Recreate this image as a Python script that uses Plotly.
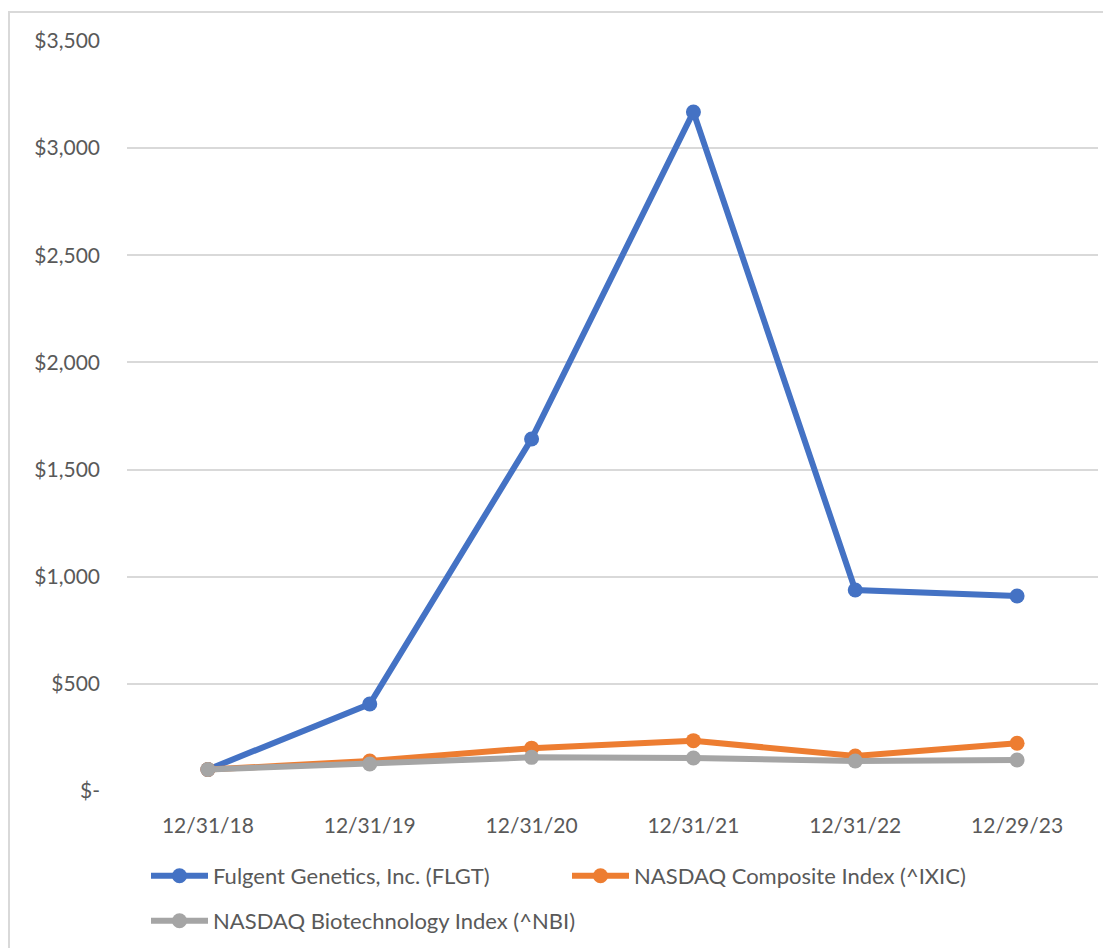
import plotly.graph_objects as go

dates = ["12/31/18", "12/31/19", "12/31/20", "12/31/21", "12/31/22", "12/29/23"]
flgt = [100, 406, 1643, 3169, 938, 910]
ixic = [100, 140, 200, 235, 163, 223]
nbi = [100, 126, 157, 154, 140, 145]

names = ["Fulgent Genetics, Inc. (FLGT)", "NASDAQ Composite Index (^IXIC)", "NASDAQ Biotechnology Index (^NBI)"]
colors = ["#4472C4", "#ED7D31", "#A5A5A5"]

ytickvals = [0, 500, 1000, 1500, 2000, 2500, 3000, 3500]
yticktext = ["$-", "$500", "$1,000", "$1,500", "$2,000", "$2,500", "$3,000", "$3,500"]

FONT = "Lato"
TXT = "#595959"

fig = go.Figure()
for name, vals, col, lg in zip(names, [flgt, ixic, nbi], colors, ["legend", "legend", "legend2"]):
    fig.add_trace(go.Scatter(
        x=dates, y=vals, name=name, mode="lines+markers",
        line=dict(color=col, width=6),
        marker=dict(color=col, size=15),
        legend=lg,
    ))

# page offset (body margin) compensation
OFF = 8
W, H = 1111 - OFF, 948 - OFF
# target plot area in window px: x 127..1098, y 41..791
ml = 127 - OFF
mr = W - (1098 - OFF)
mt = 41 - OFF
mb = H - (791 - OFF)
pw, ph = W - ml - mr, H - mt - mb

def px2x(px):
    return (px - OFF - ml) / pw

def py2y(py):
    return (H - mb - (py - OFF)) / ph

fig.update_layout(
    width=W, height=H,
    margin=dict(l=ml, r=mr, t=mt, b=mb, autoexpand=False),
    paper_bgcolor="white", plot_bgcolor="white",
    font=dict(family=FONT, size=21, color=TXT),
    xaxis=dict(
        type="category", range=[-0.5, len(dates) - 0.5],
        showgrid=False, zeroline=False, showline=False,
        ticks="", ticklabelstandoff=20, tickfont=dict(size=21, color=TXT),
    ),
    yaxis=dict(
        range=[0, 3500], tickvals=ytickvals, ticktext=yticktext,
        showgrid=True, gridcolor="#D9D9D9", gridwidth=1.5, zeroline=False,
        showline=False, ticks="", ticklabelstandoff=26,
        tickfont=dict(size=21, color=TXT),
    ),
    legend=dict(
        orientation="h", x=px2x(146), y=py2y(855), xanchor="left", yanchor="top",
        itemwidth=57, entrywidth=349, font=dict(size=22, color=TXT),
        bgcolor="rgba(0,0,0,0)", traceorder="normal",
    ),
    legend2=dict(
        orientation="h", x=px2x(146), y=py2y(900), xanchor="left", yanchor="top",
        itemwidth=57, font=dict(size=22, color=TXT),
        bgcolor="rgba(0,0,0,0)",
    ),
    shapes=[
        dict(type="line", xref="paper", yref="paper",
             x0=px2x(8), x1=px2x(1125), y0=py2y(12), y1=py2y(12),
             line=dict(color="#D9D9D9", width=2)),
        dict(type="line", xref="paper", yref="paper",
             x0=px2x(9), x1=px2x(9), y0=py2y(12), y1=py2y(960),
             line=dict(color="#D9D9D9", width=2)),
    ],
    showlegend=True,
)

fig.write_html("out.html")
